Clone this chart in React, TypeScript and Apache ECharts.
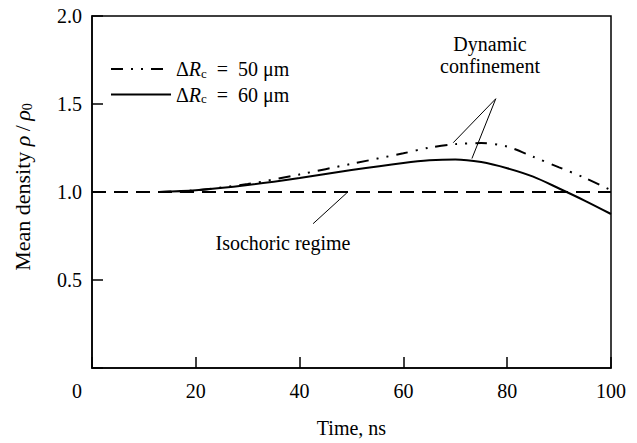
import React, { useEffect, useRef } from "react";
import * as echarts from "echarts";

const timeNs = [13, 20, 30, 40, 50, 60, 65, 70, 75, 80, 85, 90, 95, 100];
const density50 = [1.0, 1.01, 1.045, 1.1, 1.16, 1.22, 1.252, 1.272, 1.278, 1.258, 1.2, 1.14, 1.08, 1.01];
const density60 = [1.0, 1.01, 1.04, 1.08, 1.125, 1.165, 1.18, 1.185, 1.17, 1.135, 1.087, 1.02, 0.95, 0.875];
const isoTime = [0, 100];
const isoDensity = [1.0, 1.0];
const seriesNames = ["50", "60"];
const xTicks = [0, 20, 40, 60, 80, 100];
const yTicks = [0.5, 1.0, 1.5, 2.0];

const FONT = "Liberation Serif";
const FS = 20;
const NFS = 22;

export default function App() {
  const ref = useRef<HTMLDivElement>(null);
  useEffect(() => {
    if (!ref.current) return;
    const chart = echarts.init(ref.current, null, { renderer: "svg" });
    const rich = {
      d: { fontFamily: FONT, fontSize: FS, color: "#000" },
      r: { fontFamily: FONT, fontSize: FS, fontStyle: "italic", color: "#000" },
      s: { fontFamily: FONT, fontSize: 13, color: "#000", padding: [8, 0, 0, 0] },
    };
    chart.setOption({
      animation: false,
      backgroundColor: "#fff",
      textStyle: { fontFamily: FONT },
      grid: {
        left: 92,
        right: 26,
        top: 16,
        bottom: 65,
        show: true,
        borderColor: "#000",
        borderWidth: 1.5,
      },
      legend: {
        data: seriesNames,
        orient: "vertical",
        left: 105,
        top: 54,
        itemWidth: 60,
        itemHeight: 14,
        itemGap: 5,
        itemStyle: { opacity: 0, borderWidth: 0 },
        lineStyle: { opacity: 1 },
        formatter: (n: string) => `{d|Δ}{r|R}{s|c}{d|\u2002=\u2002${n} μm}`,
        textStyle: { fontFamily: FONT, fontSize: FS, color: "#000", rich },
      },
      xAxis: {
        type: "value",
        min: xTicks[0],
        max: xTicks[xTicks.length - 1],
        interval: 20,
        name: "Time, ns",
        nameLocation: "middle",
        nameGap: 50,
        nameTextStyle: { fontFamily: FONT, fontSize: FS, color: "#000" },
        axisLine: { lineStyle: { color: "#000", width: 1.5 } },
        axisTick: { inside: true, length: 11, lineStyle: { color: "#000", width: 1.5 } },
        splitLine: { show: false },
        axisLabel: {
          margin: 13,
          fontFamily: FONT,
          fontSize: FS,
          color: "#000",
          formatter: (v: number) => (v === 0 ? "{z|0}" : String(v)),
          rich: { z: { fontFamily: FONT, fontSize: FS, color: "#000", padding: [0, 30, 0, 0] } },
        },
      },
      yAxis: {
        type: "value",
        min: 0,
        max: yTicks[yTicks.length - 1],
        interval: 0.5,
        name: "{n|Mean density }{i|ρ}{n|\u2009/\u2009}{i|ρ}{s|0}",
        nameLocation: "middle",
        nameGap: 58,
        nameTextStyle: {
          fontFamily: FONT,
          fontSize: NFS,
          color: "#000",
          padding: [0, 0, 0, 10],
          rich: {
            n: { fontFamily: FONT, fontSize: NFS, color: "#000" },
            i: { fontFamily: FONT, fontSize: NFS, fontStyle: "italic", color: "#000" },
            s: { fontFamily: FONT, fontSize: 14, color: "#000", padding: [9, 0, 0, 0] },
          },
        },
        axisLine: { lineStyle: { color: "#000", width: 1.5 } },
        axisTick: { inside: true, length: 11, lineStyle: { color: "#000", width: 1.5 } },
        splitLine: { show: false },
        axisLabel: {
          margin: 10,
          fontFamily: FONT,
          fontSize: FS,
          color: "#000",
          formatter: (v: number) => (v === 0 ? "" : v.toFixed(1)),
        },
      },
      series: [
        {
          name: seriesNames[0],
          type: "line",
          data: timeNs.map((t, i) => [t, density50[i]]),
          smooth: 0.3,
          symbol: "none",
          showSymbol: false,
          color: "#000",
          lineStyle: { color: "#000", width: 2, type: [12, 8, 2, 8, 2, 8] },
        },
        {
          name: seriesNames[1],
          type: "line",
          data: timeNs.map((t, i) => [t, density60[i]]),
          smooth: 0.3,
          symbol: "none",
          showSymbol: false,
          color: "#000",
          lineStyle: { color: "#000", width: 2 },
        },
        {
          name: "iso",
          type: "line",
          data: isoTime.map((t, i) => [t, isoDensity[i]]),
          symbol: "none",
          showSymbol: false,
          color: "#000",
          lineStyle: { color: "#000", width: 2, type: [14, 8] },
          markLine: {
            silent: true,
            symbol: "none",
            label: { show: false },
            lineStyle: { color: "#000", width: 1, type: "solid" },
            data: [
              [{ coord: [77.8, 1.53] }, { coord: [69.6, 1.28] }],
              [{ coord: [77.8, 1.53] }, { coord: [73.2, 1.19] }],
              [{ coord: [42.6, 0.82] }, { coord: [49.1, 0.995] }],
            ],
          },
        },
      ],
      graphic: [
        {
          type: "text",
          x: 490,
          y: 33,
          style: {
            text: "Dynamic\nconfinement",
            align: "center",
            verticalAlign: "top",
            font: `${FS}px "Liberation Serif"`,
            fontFamily: FONT,
            fontSize: FS,
            lineHeight: 22,
            fill: "#000",
          },
        },
        {
          type: "text",
          x: 283,
          y: 243,
          style: {
            text: "Isochoric regime",
            align: "center",
            verticalAlign: "middle",
            font: `${FS}px "Liberation Serif"`,
            fontFamily: FONT,
            fontSize: FS,
            fill: "#000",
          },
        },
      ],
    });
    return () => chart.dispose();
  }, []);
  return (
    <div
      ref={ref}
      style={{ width: 637, height: 443, position: "fixed", left: 0, top: 0 }}
    />
  );
}
